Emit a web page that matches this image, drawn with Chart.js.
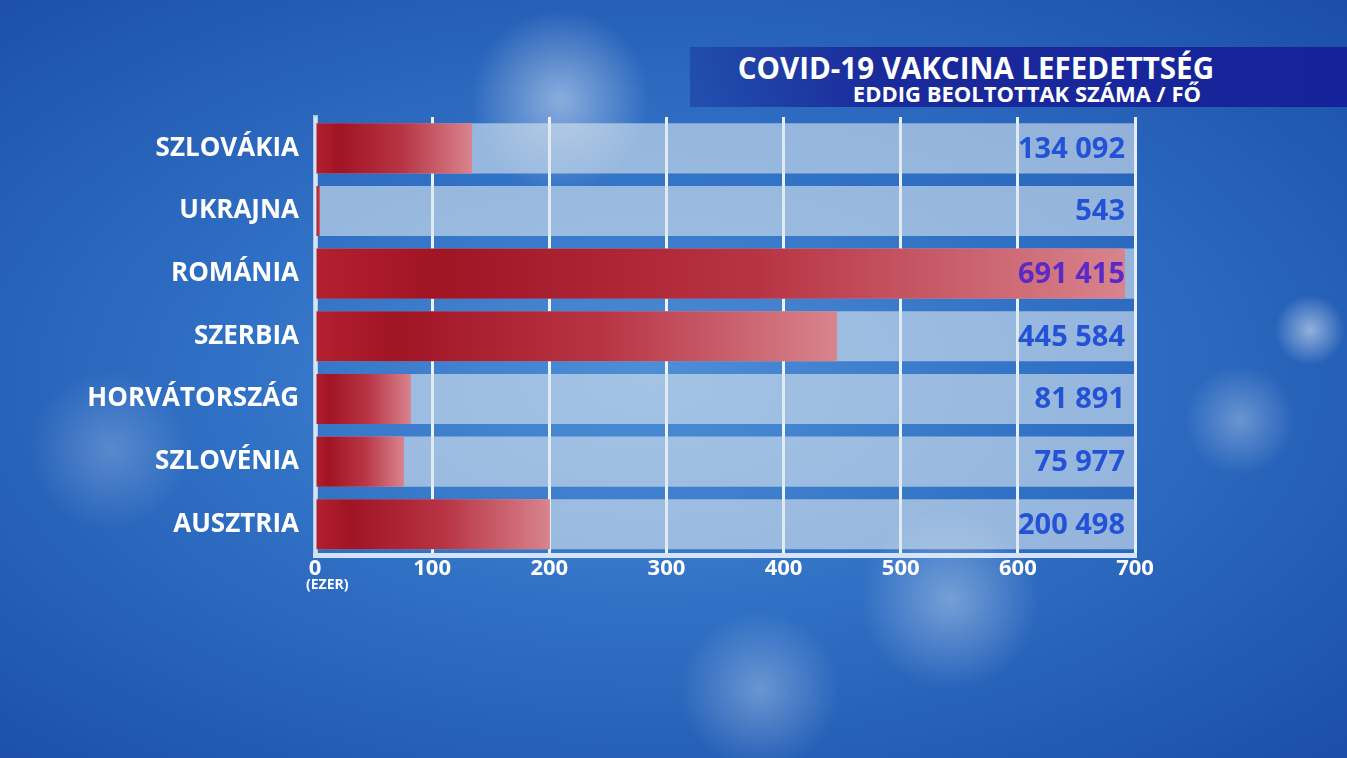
<!DOCTYPE html>
<html><head><meta charset="utf-8">
<script src="https://cdn.jsdelivr.net/npm/chart.js@4"></script>
<style>
html,body{margin:0;padding:0;width:1347px;height:758px;overflow:hidden;}
body{background:
radial-gradient(circle at 1310px 330px, rgba(255,255,255,0.5) 0, rgba(255,255,255,0) 35px),
radial-gradient(circle at 1240px 420px, rgba(255,255,255,0.3) 0, rgba(255,255,255,0) 55px),
radial-gradient(circle at 950px 600px, rgba(255,255,255,0.35) 0, rgba(255,255,255,0) 90px),
radial-gradient(circle at 760px 690px, rgba(255,255,255,0.3) 0, rgba(255,255,255,0) 80px),
radial-gradient(circle at 110px 450px, rgba(255,255,255,0.22) 0, rgba(255,255,255,0) 80px),
radial-gradient(circle at 560px 100px, rgba(255,255,255,0.45) 0, rgba(255,255,255,0) 90px),
radial-gradient(ellipse at 650px 380px, #4f8fd6 0, #2f6fc4 45%, #1b4ea8 100%);}
#hdr{position:absolute;left:690px;top:47px;width:657px;height:60px;background:linear-gradient(90deg,rgba(20,40,150,0.4),#1a2a9a 30%,#15239a);}
#t1{position:absolute;right:133px;top:47px;color:#fff;font:bold 29.5px "Open Sans",sans-serif;}
#t2{position:absolute;right:146px;top:78px;color:#fff;font:bold 22px "Open Sans",sans-serif;}
#c{position:absolute;left:0;top:0;}
#ezer{position:absolute;left:306px;top:574px;color:#fff;font:bold 14px "Open Sans",sans-serif;}
</style></head><body>
<div id="hdr"></div>
<div id="t1">COVID-19 VAKCINA LEFEDETTSÉG</div>
<div id="t2">EDDIG BEOLTOTTAK SZÁMA / FŐ</div>
<canvas id="c" width="1347" height="758"></canvas>
<div id="ezer">(EZER)</div>
<script>
const categories=["SZLOVÁKIA","UKRAJNA","ROMÁNIA","SZERBIA","HORVÁTORSZÁG","SZLOVÉNIA","AUSZTRIA"];
const values=[134.092,0.543,691.415,445.584,81.891,75.977,200.498];
const valueLabels=["134 092","543","691 415","445 584","81 891","75 977","200 498"];
const labelColors=["#2452d6","#2452d6","#5a2ac8","#2452d6","#2452d6","#2452d6","#2452d6"];
const ticks=[0,100,200,300,400,500,600,700];

const valPlugin={id:'vals',afterDatasetsDraw(ch){
 const ctx=ch.ctx, y=ch.scales.y;
 ctx.save();ctx.font='bold 29px "Open Sans",sans-serif';ctx.textAlign='right';ctx.textBaseline='middle';
 valueLabels.forEach((t,i)=>{ctx.fillStyle=labelColors[i];ctx.fillText(t,1125,y.getPixelForValue(i)+1);});
 ctx.restore();}};

function grad(c){
 const ch=c.chart; if(!ch.chartArea) return '#a01020';
 const x=ch.scales.x; const x0=x.getPixelForValue(0); const x1=x.getPixelForValue(values[c.dataIndex]);
 const g=ch.ctx.createLinearGradient(x0,0,Math.max(x1,x0+6),0);
 g.addColorStop(0,'#b42030');g.addColorStop(0.15,'#a01424');g.addColorStop(0.55,'#b83444');g.addColorStop(1,'#d8848e');
 return g;}

new Chart(document.getElementById('c'),{type:'bar',
 data:{labels:categories,datasets:[
  {data:values,backgroundColor:grad,barPercentage:1,categoryPercentage:0.8,minBarLength:5,order:0},
  {data:categories.map(()=>ticks[ticks.length-1]+8),backgroundColor:'rgba(215,228,238,0.62)',barPercentage:1,categoryPercentage:0.8,order:1}
 ]},
 options:{indexAxis:'y',responsive:false,animation:false,
  layout:{padding:{left:0,right:212,top:117,bottom:176}},
  plugins:{legend:{display:false},tooltip:{enabled:false}},
  datasets:{bar:{grouped:false}},
  scales:{
   x:{min:0,max:700,afterBuildTicks(a){a.ticks=ticks.map(v=>({value:v}));},
    grid:{color:'rgba(255,255,255,0.9)',lineWidth:3,drawTicks:false},border:{display:true,color:'rgba(230,240,250,0.9)',width:5},
    ticks:{color:'#fff',font:{family:'"Open Sans",sans-serif',weight:'bold',size:22},padding:0}},
   y:{afterFit(a){a.width=315;},grid:{display:false},border:{display:true,color:'rgba(210,225,240,0.8)',width:5},
    ticks:{color:'#fff',font:{family:'"Open Sans",sans-serif',weight:'bold',size:26},padding:8}}
  }},
 plugins:[valPlugin]});
</script></body></html>
